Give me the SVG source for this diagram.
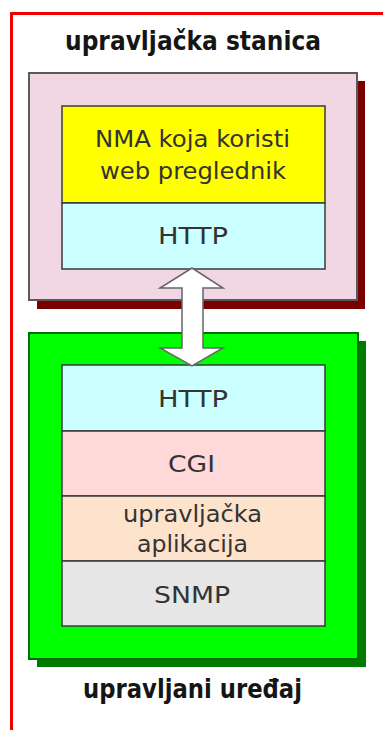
<svg xmlns="http://www.w3.org/2000/svg" width="383" height="730" viewBox="0 0 383 730">
  <style>
    .title { font-family: "DejaVu Sans", Verdana, sans-serif; font-weight: bold; font-size: 22px; fill: #151515; text-anchor: middle; }
    .lbl { font-family: "DejaVu Sans", Verdana, sans-serif; font-size: 21px; fill: #333333; text-anchor: middle; }
    .layer { stroke: #3a3a3a; stroke-width: 1.5; }
  </style>

  <!-- page frame -->
  <rect x="0" y="0" width="383" height="730" fill="#ffffff"/>
  <path d="M11.5 740 V13.5 H390" fill="none" stroke="#ee0000" stroke-width="3"/>

  <!-- management station -->
  <g id="station">
    <text class="title" transform="translate(193 50) scale(1 1.2)" textLength="256" lengthAdjust="spacingAndGlyphs">upravljačka stanica</text>
    <rect x="37" y="81" width="328" height="228" fill="#7a0000"/>
    <rect x="29" y="73" width="328" height="227" fill="#f1d6e4" stroke="#5a5a5a" stroke-width="2"/>
  </g>

  <g id="nma">
    <rect class="layer" x="62" y="106" width="263" height="97" fill="#ffff00"/>
    <text class="lbl" transform="translate(192.5 147) scale(1 1.12)" textLength="195" lengthAdjust="spacingAndGlyphs">NMA koja koristi</text>
    <text class="lbl" transform="translate(193 179) scale(1 1.12)" textLength="186" lengthAdjust="spacingAndGlyphs">web preglednik</text>
  </g>

  <g id="http-station">
    <rect class="layer" x="62" y="203" width="263" height="66" fill="#ccffff"/>
    <text class="lbl" transform="translate(193 244) scale(1 1.12)" textLength="70" lengthAdjust="spacingAndGlyphs">HTTP</text>
  </g>

  <!-- managed device -->
  <g id="device">
    <rect x="37" y="341" width="329" height="326" fill="#007a00"/>
    <rect x="29" y="333" width="329" height="326" fill="#00ff00" stroke="#0a6a0a" stroke-width="2"/>
    <text class="title" transform="translate(192.5 698) scale(1 1.2)" textLength="219" lengthAdjust="spacingAndGlyphs">upravljani uređaj</text>
  </g>

  <g id="http-device">
    <rect class="layer" x="62" y="365" width="263" height="66" fill="#ccffff"/>
    <text class="lbl" transform="translate(193 407) scale(1 1.12)" textLength="70" lengthAdjust="spacingAndGlyphs">HTTP</text>
  </g>

  <g id="cgi">
    <rect class="layer" x="62" y="431" width="263" height="65" fill="#ffd8d8"/>
    <text class="lbl" transform="translate(191.5 472) scale(1 1.12)" textLength="47" lengthAdjust="spacingAndGlyphs">CGI</text>
  </g>

  <g id="app">
    <rect class="layer" x="62" y="496" width="263" height="65" fill="#fde3cb"/>
    <text class="lbl" transform="translate(192.5 522) scale(1 1.12)" textLength="139" lengthAdjust="spacingAndGlyphs">upravljačka</text>
    <text class="lbl" transform="translate(192.5 552) scale(1 1.12)" textLength="111" lengthAdjust="spacingAndGlyphs">aplikacija</text>
  </g>

  <g id="snmp">
    <rect class="layer" x="62" y="561" width="263" height="65" fill="#e6e6e6"/>
    <text class="lbl" transform="translate(192 603) scale(1 1.12)" textLength="76" lengthAdjust="spacingAndGlyphs">SNMP</text>
  </g>

  <!-- connectors -->
  <g id="connectors">
    <polygon points="192,268 223,288 203,288 203,348 223,348 192,366 160,348 182,348 182,288 160,288" fill="#ffffff" stroke="#666666" stroke-width="1.5" stroke-linejoin="miter"/>
  </g>
</svg>
